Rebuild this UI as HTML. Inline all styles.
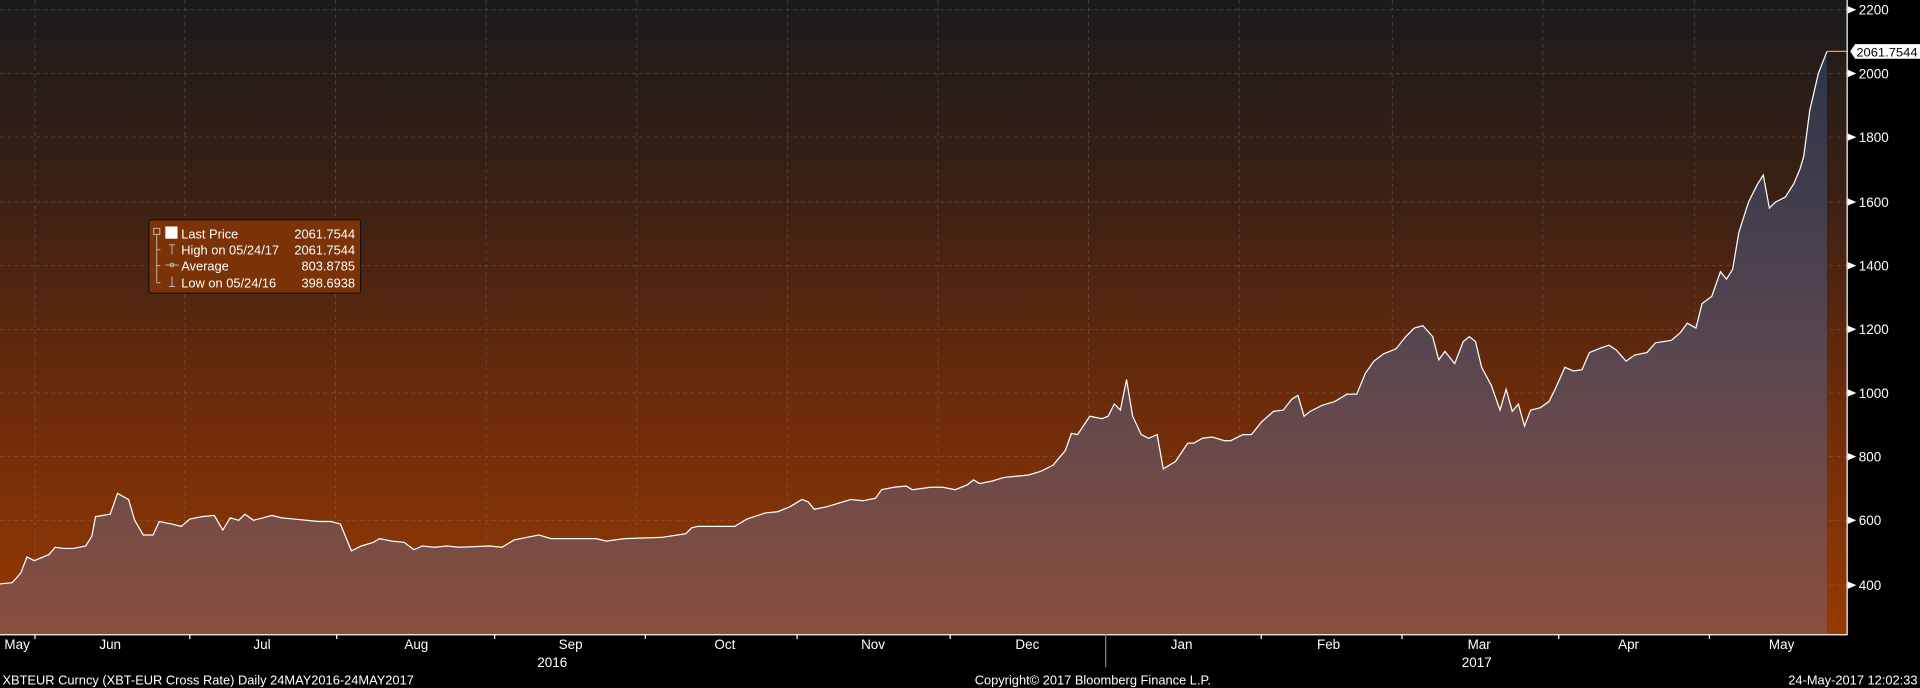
<!DOCTYPE html>
<html><head><meta charset="utf-8"><style>
html,body{margin:0;padding:0;background:#000;width:1920px;height:688px;overflow:hidden}
svg{display:block}
text{font-family:"Liberation Sans","DejaVu Sans",sans-serif;fill:#fff}
</style></head><body>
<svg width="1920" height="688" viewBox="0 0 1568 562" preserveAspectRatio="none" xmlns="http://www.w3.org/2000/svg">
<defs>
<linearGradient id="bg" x1="0" y1="0" x2="0" y2="518" gradientUnits="userSpaceOnUse">
<stop offset="0" stop-color="#1b1b1c"/><stop offset="0.3" stop-color="#3a2014"/><stop offset="0.65" stop-color="#6e2c0a"/><stop offset="1" stop-color="#963a02"/>
</linearGradient>
<linearGradient id="fl" x1="0" y1="42" x2="0" y2="518" gradientUnits="userSpaceOnUse">
<stop offset="0" stop-color="#2c3549"/><stop offset="0.5" stop-color="#574650"/><stop offset="1" stop-color="#8a4f3e"/>
</linearGradient>
</defs>
<rect x="0" y="0" width="1508" height="518" fill="url(#bg)"/>
<g stroke="#8a8a8a" stroke-width="0.6" stroke-dasharray="3,3" opacity="0.45">
<line x1="0" x2="1508" y1="8" y2="8"/><line x1="0" x2="1508" y1="60" y2="60"/><line x1="0" x2="1508" y1="112" y2="112"/><line x1="0" x2="1508" y1="165" y2="165"/><line x1="0" x2="1508" y1="217" y2="217"/><line x1="0" x2="1508" y1="269" y2="269"/><line x1="0" x2="1508" y1="321" y2="321"/><line x1="0" x2="1508" y1="373" y2="373"/><line x1="0" x2="1508" y1="425" y2="425"/><line x1="0" x2="1508" y1="478" y2="478"/>
<line y1="0" y2="518" x1="28.6" x2="28.6"/><line y1="0" y2="518" x1="151" x2="151"/><line y1="0" y2="518" x1="274" x2="274"/><line y1="0" y2="518" x1="397" x2="397"/><line y1="0" y2="518" x1="520" x2="520"/><line y1="0" y2="518" x1="643" x2="643"/><line y1="0" y2="518" x1="766" x2="766"/><line y1="0" y2="518" x1="889" x2="889"/><line y1="0" y2="518" x1="1012" x2="1012"/><line y1="0" y2="518" x1="1137" x2="1137"/><line y1="0" y2="518" x1="1260" x2="1260"/><line y1="0" y2="518" x1="1384" x2="1384"/>
</g>
<polygon fill="url(#fl)" points="0,518 0,477 10,476 17,468 22,455 28,458 35,455 40,453 45,447 52,448 60,448 70,446 75,438 78,422 90,420 96,403 105,408 110,425 117,437 125,437 130,426 140,428 148,430 155,424 165,422 175,421 182,433 188,423 195,425 200,420 207,425 215,423 222,421 230,423 240,424 250,425 260,426 270,426 278,428 287,450 295,446 305,443 310,440 320,442 330,443 338,449 345,446 355,447 365,446 375,447 400,446 410,447 420,441 430,439 440,437 450,440 480,440 487,440 495,442 510,440 540,439 560,436 565,431 570,430 580,430 600,430 610,424 625,419 635,418 645,414 655,408 660,410 665,416 675,414 685,411 695,408 705,409 715,407 720,400 730,398 740,397 745,400 760,398 770,398 780,400 790,396 795,392 800,395 810,393 820,390 830,389 840,388 850,385 860,380 870,368 875,354 880,355 890,340 900,342 905,340 910,330 915,335 920,310 925,340 932,355 938,358 945,355 950,383 955,380 960,377 970,362 975,362 982,358 990,357 1000,360 1005,360 1015,355 1022,355 1030,345 1040,336 1048,335 1055,326 1060,323 1065,340 1070,336 1080,331 1090,328 1095,325 1100,322 1108,322 1115,305 1122,295 1130,289 1140,285 1148,275 1155,268 1162,266 1170,275 1175,294 1180,287 1188,297 1195,279 1200,275 1205,279 1210,300 1218,315 1225,335 1230,318 1235,336 1240,330 1245,348 1250,335 1258,333 1265,328 1270,318 1278,300 1285,303 1292,302 1298,288 1308,284 1314,282 1320,286 1328,295 1335,290 1345,288 1352,280 1365,278 1372,272 1378,264 1385,268 1390,248 1398,242 1405,222 1410,228 1415,220 1420,190 1428,165 1435,151 1440,143 1445,170 1450,165 1458,161 1465,150 1470,138 1473,128 1478,90 1485,60 1492,42 1492,518"/>
<polyline fill="none" stroke="#fff" stroke-width="1" points="0,477 10,476 17,468 22,455 28,458 35,455 40,453 45,447 52,448 60,448 70,446 75,438 78,422 90,420 96,403 105,408 110,425 117,437 125,437 130,426 140,428 148,430 155,424 165,422 175,421 182,433 188,423 195,425 200,420 207,425 215,423 222,421 230,423 240,424 250,425 260,426 270,426 278,428 287,450 295,446 305,443 310,440 320,442 330,443 338,449 345,446 355,447 365,446 375,447 400,446 410,447 420,441 430,439 440,437 450,440 480,440 487,440 495,442 510,440 540,439 560,436 565,431 570,430 580,430 600,430 610,424 625,419 635,418 645,414 655,408 660,410 665,416 675,414 685,411 695,408 705,409 715,407 720,400 730,398 740,397 745,400 760,398 770,398 780,400 790,396 795,392 800,395 810,393 820,390 830,389 840,388 850,385 860,380 870,368 875,354 880,355 890,340 900,342 905,340 910,330 915,335 920,310 925,340 932,355 938,358 945,355 950,383 955,380 960,377 970,362 975,362 982,358 990,357 1000,360 1005,360 1015,355 1022,355 1030,345 1040,336 1048,335 1055,326 1060,323 1065,340 1070,336 1080,331 1090,328 1095,325 1100,322 1108,322 1115,305 1122,295 1130,289 1140,285 1148,275 1155,268 1162,266 1170,275 1175,294 1180,287 1188,297 1195,279 1200,275 1205,279 1210,300 1218,315 1225,335 1230,318 1235,336 1240,330 1245,348 1250,335 1258,333 1265,328 1270,318 1278,300 1285,303 1292,302 1298,288 1308,284 1314,282 1320,286 1328,295 1335,290 1345,288 1352,280 1365,278 1372,272 1378,264 1385,268 1390,248 1398,242 1405,222 1410,228 1415,220 1420,190 1428,165 1435,151 1440,143 1445,170 1450,165 1458,161 1465,150 1470,138 1473,128 1478,90 1485,60 1492,42"/>
<line x1="1492" y1="42" x2="1512" y2="42" stroke="#f0a030" stroke-width="1"/>
<rect x="1509" y="0" width="59" height="518" fill="#000"/>
<line x1="1508.5" y1="0" x2="1508.5" y2="518" stroke="#fff" stroke-width="1"/>
<line x1="0" y1="518.5" x2="1509" y2="518.5" stroke="#fff" stroke-width="1"/>
<g fill="#fff">
<polygon points="1509,5 1516,8 1509,11"/><polygon points="1509,57 1516,60 1509,63"/><polygon points="1509,109 1516,112 1509,115"/><polygon points="1509,162 1516,165 1509,168"/><polygon points="1509,214 1516,217 1509,220"/><polygon points="1509,266 1516,269 1509,272"/><polygon points="1509,318 1516,321 1509,324"/><polygon points="1509,370 1516,373 1509,376"/><polygon points="1509,422 1516,425 1509,428"/><polygon points="1509,475 1516,478 1509,481"/>
</g>
<g font-size="11">
<text x="1518" y="12">2200</text><text x="1518" y="64">2000</text><text x="1518" y="116">1800</text><text x="1518" y="169">1600</text><text x="1518" y="221">1400</text><text x="1518" y="273">1200</text><text x="1518" y="325">1000</text><text x="1518" y="377">800</text><text x="1518" y="429">600</text><text x="1518" y="482">400</text>
</g>
<polygon points="1511,42 1515,36 1568,36 1568,48 1515,48" fill="#fff"/>
<text x="1516" y="46" font-size="10" textLength="50" lengthAdjust="spacingAndGlyphs" style="fill:#000">2061.7544</text>
<rect x="121.5" y="179.5" width="173" height="60" rx="2" fill="#7a3206" stroke="#111" stroke-width="1"/>
<g stroke="#bbb" stroke-width="0.8" fill="none">
<rect x="125.5" y="186.5" width="5" height="5"/>
<line x1="128" y1="192" x2="128" y2="231"/><line x1="128" y1="204" x2="131" y2="204"/><line x1="128" y1="217" x2="131" y2="217"/><line x1="128" y1="231" x2="131" y2="231"/>
<line x1="138" y1="200" x2="143" y2="200"/><line x1="140.5" y1="200" x2="140.5" y2="208"/>
<line x1="135" y1="216.5" x2="146" y2="216.5"/><circle cx="140.5" cy="216.5" r="1.5"/>
<line x1="138" y1="234" x2="143" y2="234"/><line x1="140.5" y1="226" x2="140.5" y2="234"/>
</g>
<rect x="135" y="185" width="10" height="10" fill="#fff"/>
<g font-size="10.5">
<text x="148" y="195">Last Price</text><text x="290" y="195" text-anchor="end">2061.7544</text>
<text x="148" y="208">High on 05/24/17</text><text x="290" y="208" text-anchor="end">2061.7544</text>
<text x="148" y="221">Average</text><text x="290" y="221" text-anchor="end">803.8785</text>
<text x="148" y="235">Low on 05/24/16</text><text x="290" y="235" text-anchor="end">398.6938</text>
</g>
<g stroke="#fff" stroke-width="1">
<line x1="28.6" y1="518" x2="28.6" y2="522"/><line x1="155" y1="518" x2="155" y2="522"/><line x1="275" y1="518" x2="275" y2="522"/><line x1="404" y1="518" x2="404" y2="522"/><line x1="527" y1="518" x2="527" y2="522"/><line x1="651" y1="518" x2="651" y2="522"/><line x1="776" y1="518" x2="776" y2="522"/><line x1="903" y1="518" x2="903" y2="545" stroke="#888"/><line x1="1030" y1="518" x2="1030" y2="522"/><line x1="1145" y1="518" x2="1145" y2="522"/><line x1="1273" y1="518" x2="1273" y2="522"/><line x1="1396" y1="518" x2="1396" y2="522"/>
</g>
<g font-size="11" text-anchor="middle">
<text x="14" y="530">May</text><text x="90" y="530">Jun</text><text x="214" y="530">Jul</text><text x="340" y="530">Aug</text><text x="466" y="530">Sep</text><text x="592" y="530">Oct</text><text x="713" y="530">Nov</text><text x="839" y="530">Dec</text><text x="965" y="530">Jan</text><text x="1085" y="530">Feb</text><text x="1208" y="530">Mar</text><text x="1330" y="530">Apr</text><text x="1455" y="530">May</text>
<text x="451" y="545">2016</text><text x="1206" y="545">2017</text>
</g>
<g font-size="10.5">
<text x="2" y="559">XBTEUR Curncy (XBT-EUR Cross Rate)  Daily 24MAY2016-24MAY2017</text>
<text x="796" y="559">Copyright© 2017 Bloomberg Finance L.P.</text>
<text x="1566" y="559" text-anchor="end">24-May-2017 12:02:33</text>
</g>
</svg>
</body></html>
